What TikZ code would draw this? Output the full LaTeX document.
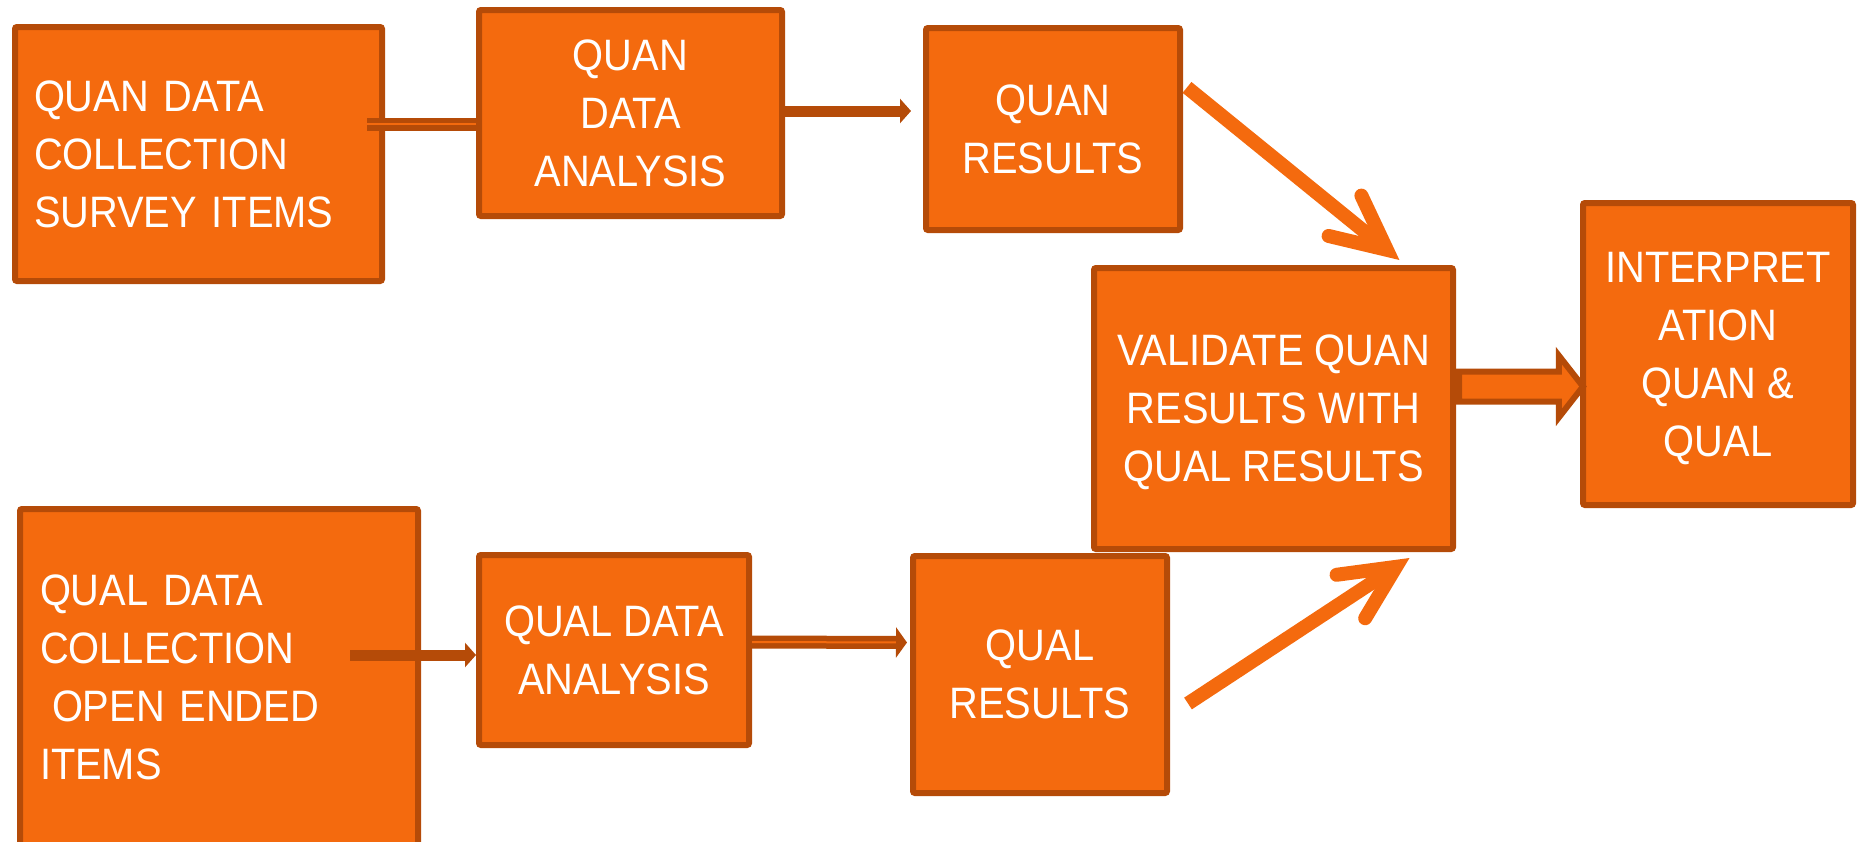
\documentclass[tikz,border=0pt]{standalone}
\usepackage{fontspec}
\setmainfont{Liberation Sans}[FakeStretch=0.905]
\usepackage{tikz}
\usetikzlibrary{arrows.meta,calc,shapes.arrows}

\definecolor{boxfill}{RGB}{244,106,14}
\definecolor{boxline}{RGB}{181,75,8}

\tikzset{
  stage/.style={draw=boxline, fill=boxfill, line width=3pt, rounded corners=1pt, text=white,
    font=\fontsize{22pt}{29pt}\selectfont, align=center, inner sep=0pt},
  midstage/.style={stage, text depth=0pt},
  thinarr/.style={draw=boxline, line width=5.5pt, -{Triangle[length=5.5pt,width=12pt]}},
  dblarr/.style={draw=boxline, line width=2.75pt, double=boxfill, double distance=1pt},
  openarr/.style={draw=boxfill, line width=7pt,
    -{Straight Barb[length=27pt,width=26pt,line cap=round,line join=miter]}},
  blockarr/.style={single arrow, draw=boxline, fill=boxfill, line width=3pt, inner sep=6pt,
    single arrow head extend=8pt, single arrow tip angle=104, minimum height=62pt}
}

\begin{document}
\begin{tikzpicture}[x=0.5pt,y=0.5pt,yscale=-1,xscale=1]
\useasboundingbox (0,0) rectangle (1858,841);

% quan strand
\node[stage, minimum width=183.5pt, minimum height=127pt, text width=164.5pt, align=left, inner xsep=9.5pt] (colQuan) at (198.5,154) {QUAN DATA\\COLLECTION\\SURVEY ITEMS};
\node[midstage, minimum width=151.5pt, minimum height=103pt] (anaQuan) at (630.5,113) {QUAN\\DATA\\ANALYSIS};
\node[midstage, minimum width=127pt, minimum height=101pt] (resQuan) at (1053,129) {QUAN\\RESULTS};

% qual strand
\node[stage, minimum width=199pt, minimum height=168pt, text width=179pt, align=left, inner xsep=10pt] (colQual) at (219,677) {QUAL DATA\\COLLECTION\\\hspace*{6pt}OPEN ENDED\\ITEMS};
\node[midstage, minimum width=135pt, minimum height=95pt] (anaQual) at (614,650) {QUAL DATA\\ANALYSIS};
\node[midstage, minimum width=127pt, minimum height=118.5pt] (resQual) at (1040,674.5) {QUAL\\RESULTS};

% merging
\node[midstage, minimum width=179.5pt, minimum height=140.5pt] (validate) at (1273.5,408.5) {VALIDATE QUAN\\RESULTS WITH\\QUAL RESULTS};
\node[midstage, minimum width=135pt, minimum height=151pt] (interp) at (1718,354) {INTERPRET\\ATION\\QUAN \&\\QUAL};

% connectors
\coordinate (q1) at ($(anaQuan.west)+(0,11)$);
\draw[dblarr] ($(colQuan.east |- q1)+(-18,0)$) -- (q1);
\draw[thinarr] ($(anaQuan.east)+(0,-2)$) -- ($(resQuan.west)+(-12,-18)$);
\draw[openarr] ($(resQuan.north east)!0.3!(resQuan.south east)+(4,0)$) -- ($(validate.north west)!0.845!(validate.north east)+(0,-5)$);

\draw[thinarr] ($(colQual.east |- anaQual.west)+(-71,5)$) -- ($(anaQual.west)+(0,5)$);
\draw[dblarr, -{Triangle[length=5.5pt,width=15pt]}] ($(anaQual.east)+(0,-8)$) -- ($(resQual.west)+(-3,-32)$);
\draw[openarr] ($(resQual.east)+(18,29)$) -- ($(validate.south)+(136,6)$);

\node[blockarr, anchor=tail] (toInterp) at ($(validate.east)+(0,-22)$) {};

\end{tikzpicture}
\end{document}
